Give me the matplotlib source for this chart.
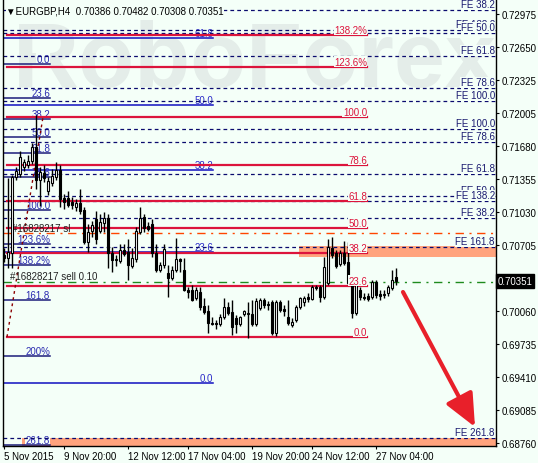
import matplotlib
matplotlib.use("Agg")
import matplotlib.pyplot as plt
from matplotlib.patches import Rectangle
import matplotlib.transforms as mtransforms

plt.rcParams['font.family'] = ['Liberation Sans', 'DejaVu Sans']

BG = "#F4FFF8"

# EURGBP H4 candles, bar 0 = 5 Nov 2015 00:00
opens = [0.7061, 0.7058, 0.7063, 0.7137, 0.7140, 0.7147, 0.7149, 0.7153, 0.7167, 0.7134,
         0.7141, 0.7124, 0.7131, 0.7137, 0.7144, 0.7117, 0.7117, 0.7113, 0.7108, 0.7112,
         0.7105, 0.7073, 0.7084, 0.7096, 0.7084, 0.7092, 0.7097, 0.7063, 0.7056, 0.7055,
         0.7066, 0.7064, 0.7050, 0.7057, 0.7083, 0.7098, 0.7089, 0.7091, 0.7063, 0.7046,
         0.7051, 0.7043, 0.7038, 0.7046, 0.7057, 0.7046, 0.7026, 0.7026, 0.7018, 0.7024,
         0.7011, 0.7006, 0.6994, 0.6994, 0.6993, 0.7000, 0.7010, 0.7005, 0.6999, 0.6993,
         0.7003, 0.7003, 0.7003, 0.6993, 0.7009, 0.7016, 0.7013, 0.7014, 0.6984, 0.7014,
         0.7008, 0.7000, 0.6992, 0.6997, 0.7010, 0.7014, 0.7019, 0.7017, 0.7029, 0.7029,
         0.7019, 0.7033, 0.7068, 0.7063, 0.7052, 0.7063, 0.7054, 0.7033, 0.7004, 0.7026,
         0.7019, 0.7020, 0.7019, 0.7034, 0.7022, 0.7021, 0.7023, 0.7028, 0.70386]
highs = [0.7068, 0.7136, 0.7139, 0.7147, 0.7163, 0.7155, 0.7159, 0.7171, 0.7198, 0.7147,
         0.7149, 0.7137, 0.7145, 0.7152, 0.7149, 0.7121, 0.7124, 0.7118, 0.7116, 0.7126,
         0.7108, 0.7091, 0.7094, 0.7104, 0.7101, 0.7103, 0.7101, 0.7069, 0.7061, 0.7071,
         0.7071, 0.7076, 0.7068, 0.7088, 0.7108, 0.7101, 0.7093, 0.7096, 0.7071, 0.7054,
         0.7071, 0.7051, 0.7050, 0.7077, 0.7058, 0.7058, 0.7029, 0.7031, 0.7029, 0.7029,
         0.7018, 0.7012, 0.7000, 0.6997, 0.7003, 0.7018, 0.7014, 0.7016, 0.7002, 0.7001,
         0.7007, 0.7014, 0.7016, 0.7018, 0.7018, 0.7018, 0.7015, 0.7016, 0.7016, 0.7016,
         0.7012, 0.7016, 0.6999, 0.7012, 0.7019, 0.7020, 0.7023, 0.7031, 0.7031, 0.7031,
         0.7059, 0.7076, 0.7078, 0.7066, 0.7066, 0.7074, 0.7073, 0.7036, 0.7034, 0.7029,
         0.7023, 0.7023, 0.7036, 0.7036, 0.7026, 0.7026, 0.7031, 0.7046, 0.70482]
lows = [0.7054, 0.7048, 0.7048, 0.7134, 0.7137, 0.7143, 0.7146, 0.7150, 0.7126, 0.7109,
        0.7132, 0.7120, 0.7128, 0.7134, 0.7108, 0.7106, 0.7108, 0.7106, 0.7104, 0.7101,
        0.7071, 0.7064, 0.7078, 0.7071, 0.7082, 0.7083, 0.7048, 0.7044, 0.7050, 0.7053,
        0.7060, 0.7036, 0.7048, 0.7054, 0.7081, 0.7083, 0.7084, 0.7059, 0.7044, 0.7044,
        0.7048, 0.7019, 0.7036, 0.7044, 0.7044, 0.7025, 0.7018, 0.7015, 0.7016, 0.7007,
        0.7003, 0.6984, 0.6992, 0.6988, 0.6991, 0.6998, 0.7002, 0.6982, 0.6984, 0.6991,
        0.7001, 0.6979, 0.6991, 0.6991, 0.7007, 0.7009, 0.7007, 0.6982, 0.6981, 0.7005,
        0.7001, 0.6992, 0.6990, 0.6995, 0.7008, 0.7011, 0.7014, 0.7016, 0.7026, 0.7014,
        0.7017, 0.7031, 0.7058, 0.7048, 0.7050, 0.7051, 0.7031, 0.6999, 0.7002, 0.7016,
        0.7016, 0.7015, 0.7017, 0.7018, 0.7016, 0.7018, 0.7020, 0.7026, 0.70308]
closes = [0.7058, 0.7064, 0.7137, 0.7143, 0.7157, 0.7152, 0.7153, 0.7167, 0.7134, 0.7142,
          0.7136, 0.7133, 0.7138, 0.7144, 0.7116, 0.7113, 0.7110, 0.7110, 0.7112, 0.7104,
          0.7073, 0.7083, 0.7090, 0.7076, 0.7093, 0.7097, 0.7063, 0.7056, 0.7057, 0.7066,
          0.7062, 0.7051, 0.7058, 0.7084, 0.7097, 0.7087, 0.7086, 0.7063, 0.7046, 0.7051,
          0.7067, 0.7038, 0.7046, 0.7057, 0.7055, 0.7026, 0.7024, 0.7016, 0.7026, 0.7010,
          0.7005, 0.6994, 0.6993, 0.6993, 0.7000, 0.7010, 0.7004, 0.6990, 0.6993, 0.7000,
          0.7006, 0.7004, 0.6993, 0.7015, 0.7016, 0.7012, 0.7012, 0.6984, 0.7014, 0.7007,
          0.7006, 0.6994, 0.6995, 0.7010, 0.7018, 0.7018, 0.7017, 0.7029, 0.7028, 0.7019,
          0.7049, 0.7069, 0.7061, 0.7050, 0.7063, 0.7053, 0.7033, 0.7004, 0.7033, 0.7019,
          0.7018, 0.7017, 0.7034, 0.7021, 0.7020, 0.7022, 0.7029, 0.7036, 0.70351]

# x-axis labels (bar index, text)
tick_bars = [0, 15, 31, 46, 62, 77, 93]
tick_labels = ["5 Nov 2015", "9 Nov 20:00", "12 Nov 12:00", "17 Nov 04:00",
               "19 Nov 20:00", "24 Nov 12:00", "27 Nov 04:00"]
price_ticks = [0.72975, 0.72650, 0.72325, 0.72005, 0.71680, 0.71355, 0.71030,
               0.70705, 0.70060, 0.69735, 0.69410, 0.69085, 0.68760]

# Fibo expansion levels (dashed, full width)
fe_levels = [0.73014, 0.72817, 0.72788, 0.72562, 0.72248, 0.72120, 0.71845,
             0.71717, 0.71403, 0.71186, 0.71137, 0.70970, 0.70685, 0.68809]
fe_labels = ["FE 38.2", "FE 138.2", "FE 50.0", "FE 61.8", "FE 78.6", "FE 100.0", "FE 100.0",
             "FE 78.6", "FE 61.8", "FE 50.0", "FE 138.2", "FE 38.2", "FE 161.8", "FE 261.8"]

# red retracement
red_levels = [0.72768, 0.72454, 0.71963, 0.71491, 0.71137, 0.70872, 0.70626, 0.70302, 0.69801]
red_labels = ["138.2%", "123.6%", "100.0", "78.6", "61.8", "50.0", "38.2", "23.6", "0.0"]

# long blue retracement
blue_levels = [0.72739, 0.72081, 0.71442, 0.70636, 0.69349]
blue_labels = ["61.8", "50.0", "38.2", "23.6", "0.0"]

# short blue retracement
short_levels = [0.72483, 0.72149, 0.71943, 0.71766, 0.71609, 0.71373, 0.71049,
                0.70715, 0.70509, 0.70165, 0.69614, 0.68738]
short_labels = ["0.0", "23.6", "38.2", "50.0", "61.8", "78.6", "100.0",
                "123.6%", "138.2%", "161.8", "200%", "261.8"]

sl_price = 0.70823
open_price = 0.70345
last_price = 0.70351
zones = [(0.70587, 0.70695, 73.75), (0.68730, 0.68809, 4.5)]
trend_pts = ([0.75, 9.75], [0.69801, 0.71963])
arrow_from = (99.75, 0.70243)
arrow_to = (117.75, 0.68917)

fig = plt.figure(figsize=(5.38, 4.64), dpi=100, facecolor=BG)
ax = fig.add_axes([3 / 538, 17 / 464, 493 / 538, 447 / 464])
ax.set_facecolor("none")
xmin, xmax = -0.25, 123
ax.set_xlim(xmin, xmax)
ax.set_ylim(0.68730, 0.73122)

# watermark
ax.text(0.02, 0.805, "RoboForex", transform=ax.transAxes, fontsize=66, fontweight="bold",
        color="#E4EDE9", ha="left", va="baseline", zorder=0)

for lo, hi, x0 in zones:
    ax.add_patch(Rectangle((x0, lo), xmax - x0, hi - lo, facecolor="#FFA37D",
                           edgecolor="none", zorder=0.5))

lbl = dict(fontsize=7, va="bottom", zorder=6)
box = dict(facecolor=BG, edgecolor="none", pad=0.3)

for lv, t in zip(fe_levels, fe_labels):
    ax.plot([xmin, xmax], [lv, lv], color="#0A0A6E", lw=0.9, ls=(0, (3, 2.5)), zorder=2)
    ax.text(xmax - 0.3, lv + 0.00006, t, ha="right", color="#1A1A70", bbox=box, **lbl)

for lv, t in zip(short_levels, short_labels):
    ax.plot([xmin, 11.5], [lv, lv], color="#1C1C7A", lw=1.1, zorder=2)
    ax.text(11.5, lv + 0.00003, t, ha="right", color="#2A2AB0", fontsize=7,
            va="bottom", zorder=1.5, bbox=box)

for lv, t in zip(blue_levels, blue_labels):
    ax.plot([xmin, 52.25], [lv, lv], color="#1010C0", lw=1.1, zorder=2)
    ax.text(52.25, lv + 0.00003, t, ha="right", color="#2A2AC8", fontsize=7,
            va="bottom", zorder=1.5)

for lv, t in zip(red_levels, red_labels):
    ax.plot([0.75, 90.75], [lv, lv], color="#DC143C", lw=1.6, zorder=3)
    ax.text(90.75, lv + 0.00004, t, ha="right", color="#DC143C", bbox=box, **lbl)

ax.plot(*trend_pts, color="#8B0000", lw=1, ls=(0, (2, 2.5)), zorder=3)

ax.plot([xmin, xmax], [sl_price, sl_price], color="#FF4500", lw=1,
        ls=(0, (6, 4, 1.5, 4)), zorder=2)
ax.plot([xmin, xmax], [open_price, open_price], color="#1E8B1E", lw=1,
        ls=(0, (6, 4, 1.5, 4)), zorder=2)
ax.text(2, 0.70872, "#16828217 sl", fontsize=7, color="#222222", va="center", zorder=4)
ax.text(1.5, 0.70396, "#16828217 sell 0.10", fontsize=7, color="#222222", va="center", zorder=4)

# candles
x = list(range(len(opens)))
ax.vlines(x, lows, highs, color="black", lw=1, zorder=4)
up = [i for i in x if closes[i] >= opens[i]]
dn = [i for i in x if closes[i] < opens[i]]
ax.bar(up, [closes[i] - opens[i] for i in up], bottom=[opens[i] for i in up], width=0.55,
       color="white", edgecolor="black", lw=0.8, zorder=5)
ax.bar(dn, [closes[i] - opens[i] for i in dn], bottom=[opens[i] for i in dn], width=0.55,
       color="black", edgecolor="black", lw=0.8, zorder=5)

ax.annotate("", xy=arrow_to, xytext=arrow_from,
            arrowprops=dict(arrowstyle="-|>,head_length=1.0,head_width=0.45", lw=3,
                            color="#E8202A", shrinkA=0, shrinkB=0, mutation_scale=20),
            zorder=7)

ax.text(0.006, 0.985, "\u25bcEURGBP,H4  0.70386 0.70482 0.70308 0.70351", transform=ax.transAxes,
        fontsize=7, ha="left", va="top", color="black", bbox=box, zorder=6)

# axes styling
for s in ["left", "right", "bottom"]:
    ax.spines[s].set_color("black")
    ax.spines[s].set_linewidth(1)
ax.spines["top"].set_visible(False)
ax.yaxis.tick_right()
ax.set_yticks(price_ticks)
ax.set_yticklabels([f"{p:.5f}" for p in price_ticks])
ax.set_xticks(tick_bars)
ax.set_xticklabels(tick_labels, ha="left")
ax.tick_params(axis="y", length=2.5, width=0.8, pad=1.5, labelsize=7)
ax.tick_params(axis="x", length=2.5, width=0.8, pad=1, labelsize=7)

trans = mtransforms.blended_transform_factory(ax.transAxes, ax.transData)
ax.text(1.004, last_price, "0.70351", transform=trans, fontsize=7, color="white",
        ha="left", va="center", clip_on=False, zorder=8,
        bbox=dict(facecolor="black", edgecolor="black", pad=1.2))

fig.savefig("out.png", dpi=100, facecolor=BG)
